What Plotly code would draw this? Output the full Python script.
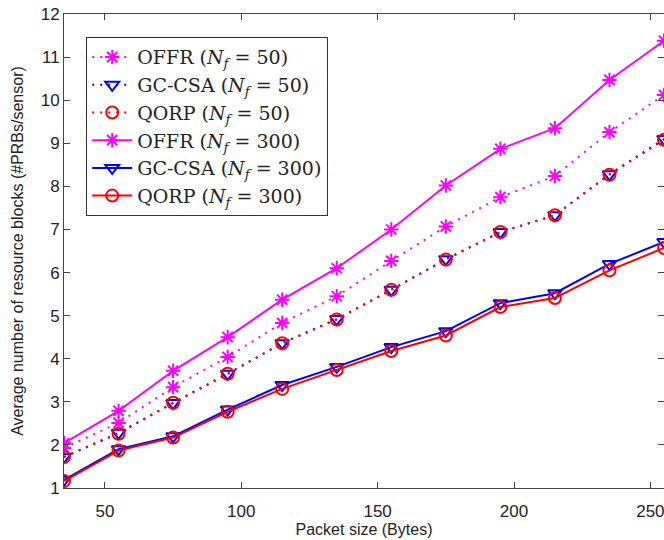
import plotly.graph_objects as go

packet_size = [35, 55, 75, 95, 115, 135, 155, 175, 195, 215, 235, 255]
offr_50 = [1.93, 2.51, 3.34, 4.04, 4.83, 5.45, 6.27, 7.07, 7.75, 8.24, 9.26, 10.12]
gccsa_50 = [1.72, 2.28, 2.97, 3.65, 4.36, 4.92, 5.60, 6.31, 6.94, 7.33, 8.28, 9.10]
qorp_50 = [1.72, 2.26, 2.98, 3.65, 4.36, 4.91, 5.60, 6.30, 6.94, 7.33, 8.27, 9.08]
offr_300 = [2.04, 2.79, 3.72, 4.50, 5.37, 6.10, 7.00, 8.02, 8.87, 9.35, 10.47, 11.38]
gccsa_300 = [1.19, 1.90, 2.20, 2.82, 3.39, 3.81, 4.27, 4.64, 5.29, 5.52, 6.20, 6.71]
qorp_300 = [1.16, 1.87, 2.17, 2.77, 3.30, 3.74, 4.18, 4.54, 5.20, 5.41, 6.05, 6.57]

x_ticks = [50, 100, 150, 200, 250]
y_ticks = list(range(1, 13))

MAG = "#ff00ff"
BLU = "#0000ff"
RED = "#ff0000"
DOT = "2px,6px"

series = [
    ("OFFR", "50", offr_50, MAG, "asterisk-open", DOT),
    ("GC-CSA", "50", gccsa_50, BLU, "triangle-down-open", DOT),
    ("QORP", "50", qorp_50, RED, "circle-open", DOT),
    ("OFFR", "300", offr_300, MAG, "asterisk-open", "solid"),
    ("GC-CSA", "300", gccsa_300, BLU, "triangle-down-open", "solid"),
    ("QORP", "300", qorp_300, RED, "circle-open", "solid"),
]

fig = go.Figure()
for i, (name, nf, vals, col, sym, dash) in enumerate(series):
    fig.add_trace(go.Scatter(
        x=packet_size, y=vals, mode="lines+markers",
        name=f"{name} (<i>N</i><sub><i>f</i></sub> = {nf})",
        legendgroup=f"g{i}",
        line=dict(color=col, width=2, dash=dash),
        marker=dict(symbol=sym, size=12, color=col, line=dict(color=col, width=2)),
    ))

axis_common = dict(
    showgrid=False, zeroline=False, showline=True, linecolor="#444", linewidth=1,
    mirror="allticks", ticks="inside", ticklen=6, tickcolor="#444",
    ticklabeloverflow="allow",
    tickfont=dict(family="Liberation Sans, Arial, sans-serif", size=17, color="#222"),
)

fig.update_layout(
    width=664, height=540,
    margin=dict(l=64, r=0, t=14, b=52),
    paper_bgcolor="white", plot_bgcolor="white",
    xaxis=dict(range=[35, 255], tickvals=x_ticks, ticklabelstandoff=8,
               title=dict(text="Packet size (Bytes)", standoff=0,
                          font=dict(family="Liberation Sans, Arial, sans-serif", size=16, color="#222")),
               **axis_common),
    yaxis=dict(range=[1, 12], tickvals=y_ticks,
               title=dict(text="Average number of resource blocks (#PRBs/sensor)", standoff=13,
                          font=dict(family="Liberation Sans, Arial, sans-serif", size=16, color="#222")),
               **axis_common),
    legend=dict(x=0.037, y=0.951, xanchor="left", yanchor="top",
                bgcolor="white", bordercolor="#333", borderwidth=1,
                font=dict(family="DejaVu Serif, serif", size=19, color="#222"),
                tracegroupgap=0, itemwidth=40),
    showlegend=True,
)

fig.write_html(
    "out.html",
    config={"displayModeBar": False},
    post_script="document.body.style.margin='0';document.body.style.overflow='hidden';",
)
